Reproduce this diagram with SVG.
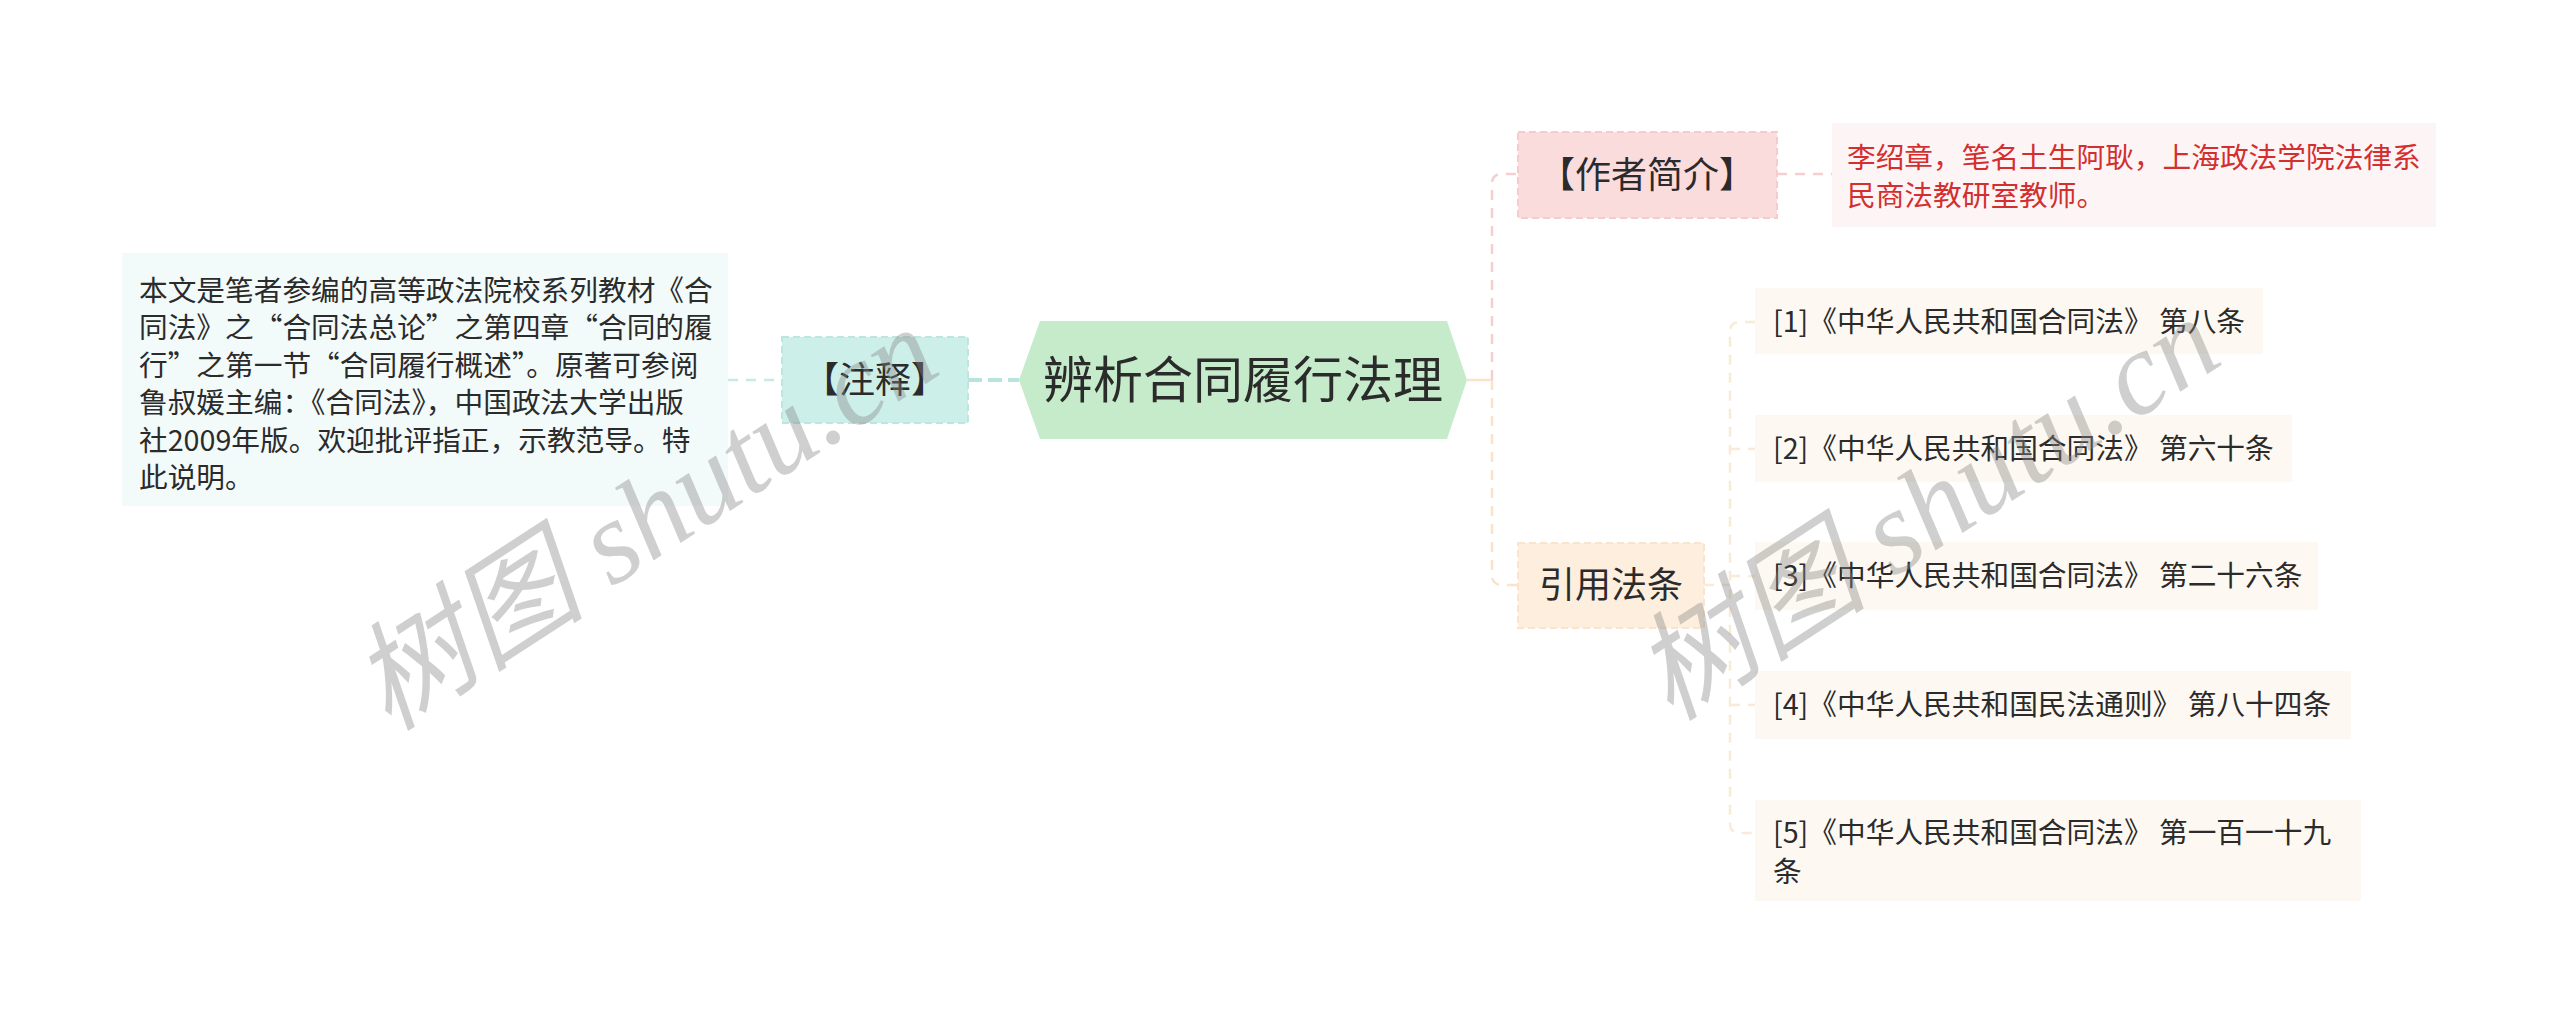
<svg xmlns="http://www.w3.org/2000/svg" width="2560" height="1025" viewBox="0 0 2560 1025">
<style>
  .t { font-family: "Noto Sans CJK SC", "Liberation Sans", sans-serif; fill: #2b2b2b; }
  .s { font-size: 28.7px; }
  .m { font-size: 36px; }
  .red { fill: #d32f2f; }
  .leaf { fill: #fdf9f2; }
  .wm { font-family: "Liberation Serif", "Noto Sans CJK SC", serif; font-style: italic; font-size: 118px; fill: #888; fill-opacity: 0.4; }
  .c { fill: none; stroke-width: 2.5; }
</style>
<rect width="2560" height="1025" fill="#ffffff"/>

<g id="connectors">
  <line class="c" x1="728" y1="380" x2="782" y2="380" stroke="#c6ebe5" stroke-dasharray="10 8"/>
  <line x1="968" y1="380" x2="1019" y2="380" stroke="#b7e5de" stroke-width="4" stroke-dasharray="14 6"/>
  <path class="c" d="M1467 380 H1492" stroke="#fbe2cb"/>
  <path class="c" d="M1492 380 V184 Q1492 174 1502 174 H1518" stroke="#f5cfcf" stroke-dasharray="10 8"/>
  <path class="c" d="M1492 380 V575 Q1492 585 1502 585 H1518" stroke="#fbe2cb" stroke-dasharray="10 8"/>
  <line class="c" x1="1777" y1="174" x2="1832" y2="174" stroke="#f5cfcf" stroke-dasharray="10 8"/>
  <path class="c" d="M1704 585 H1730" stroke="#f8ecd8" stroke-dasharray="10 8"/>
  <path class="c" d="M1755 322 H1740 Q1730 322 1730 332 V823 Q1730 833 1740 833 H1755" stroke="#f8ecd8" stroke-dasharray="10 8"/>
  <path class="c" d="M1730 449 H1755 M1730 576 H1755 M1730 705 H1755" stroke="#f8ecd8" stroke-dasharray="10 8"/>
</g>

<g id="node-root">
  <polygon points="1019,380 1040,321 1447,321 1467,380 1447,439 1040,439" fill="#c5ebca"/>
  <text class="t" x="1243" y="398" font-size="50" text-anchor="middle">辨析合同履行法理</text>
</g>

<g id="node-zhushi">
  <rect x="782" y="337" width="186" height="86" fill="#cdefe9" stroke="#bde6df" stroke-width="2" stroke-dasharray="7 4"/>
  <text class="t m" x="875" y="393" text-anchor="middle">【注释】</text>
</g>

<g id="node-note">
  <rect x="122" y="253" width="606" height="253" fill="#f3fafa"/>
  <text class="t s">
    <tspan x="139" y="301">本文是笔者参编的高等政法院校系列教材《合</tspan>
    <tspan x="139" y="338">同法》之“合同法总论”之第四章“合同的履</tspan>
    <tspan x="139" y="376">行”之第一节“合同履行概述”。原著可参阅</tspan>
    <tspan x="139" y="413">鲁叔媛主编：《合同法》，中国政法大学出版</tspan>
    <tspan x="139" y="451">社2009年版。欢迎批评指正，示教范导。特</tspan>
    <tspan x="139" y="488">此说明。</tspan>
  </text>
</g>

<g id="node-author">
  <rect x="1518" y="132" width="259" height="86" fill="#fbdcdc" stroke="#f5cccc" stroke-width="2" stroke-dasharray="7 4"/>
  <text class="t m" x="1647" y="188" text-anchor="middle">【作者简介】</text>
</g>

<g id="node-author-desc">
  <rect x="1832" y="123" width="604" height="104" fill="#fdf5f5"/>
  <text class="t s red">
    <tspan x="1847" y="168">李绍章，笔名土生阿耿，上海政法学院法律系</tspan>
    <tspan x="1847" y="206">民商法教研室教师。</tspan>
  </text>
</g>

<g id="node-laws">
  <rect x="1518" y="543" width="186" height="85" fill="#fdeede" stroke="#fbe4cc" stroke-width="2" stroke-dasharray="7 4"/>
  <text class="t m" x="1611" y="598" text-anchor="middle">引用法条</text>
</g>

<g id="node-law1">
  <rect class="leaf" x="1755" y="288" width="508" height="66"/>
  <text class="t s" x="1773" y="332">[1]《中华人民共和国合同法》 第八条</text>
</g>
<g id="node-law2">
  <rect class="leaf" x="1755" y="415" width="537" height="67"/>
  <text class="t s" x="1773" y="459">[2]《中华人民共和国合同法》 第六十条</text>
</g>
<g id="node-law3">
  <rect class="leaf" x="1755" y="542" width="563" height="68"/>
  <text class="t s" x="1773" y="586">[3]《中华人民共和国合同法》 第二十六条</text>
</g>
<g id="node-law4">
  <rect class="leaf" x="1755" y="671" width="596" height="68"/>
  <text class="t s" x="1773" y="715">[4]《中华人民共和国民法通则》 第八十四条</text>
</g>
<g id="node-law5">
  <rect class="leaf" x="1755" y="800" width="606" height="101"/>
  <text class="t s">
    <tspan x="1773" y="843">[5]《中华人民共和国合同法》 第一百一十九</tspan>
    <tspan x="1773" y="882">条</tspan>
  </text>
</g>

<g id="watermarks">
  <text class="wm" x="645" y="519" text-anchor="middle" dominant-baseline="central" transform="rotate(-33 645 519)">树图 shutu.cn</text>
  <text class="wm" x="1927" y="509" text-anchor="middle" dominant-baseline="central" transform="rotate(-33 1927 509)">树图 shutu.cn</text>
</g>
</svg>
